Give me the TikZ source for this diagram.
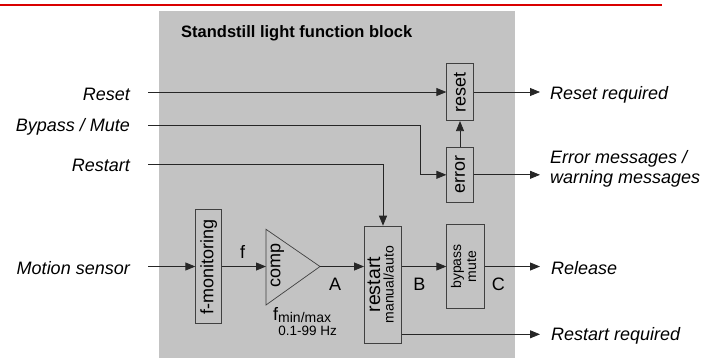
\documentclass[tikz,border=0pt]{standalone}
\usepackage{fontspec}
\setmainfont{Liberation Sans}
\usepackage{tikz}
\usetikzlibrary{arrows.meta}
\definecolor{panelgray}{RGB}{195,195,195}

\begin{document}
\begin{tikzpicture}[x=1pt,y=-1pt,
  every node/.style={font=\fontsize{18}{19.5}\selectfont,inner sep=0pt},
  blockbox/.style={draw=black!75,fill=panelgray,line width=0.7pt},
  sig/.style={draw=black!85,line width=0.8pt},
  sigarrow/.style={sig,-{Triangle[length=10pt,width=8pt]}},
  inlabel/.style={anchor=base east,font=\fontsize{18}{19.5}\selectfont\itshape},
  outlabel/.style={anchor=base west,font=\fontsize{18}{19.5}\selectfont\itshape},
  smalltext/.style={font=\fontsize{14}{15}\selectfont}]
\useasboundingbox (0,0) rectangle (709,360);
\fill[panelgray] (159,11) rectangle (515,358);
\draw[draw=red!85!black,line width=1.8pt] (0,5.3) -- (662,5.3);
\node[anchor=base west,font=\fontsize{16.5}{18}\selectfont\bfseries] (title) at (181,37.7) {Standstill light function block};
\node[blockbox,minimum width=26.6,minimum height=57.4] (reset) at (460,92) {\rotatebox{90}{reset}};
\node[blockbox,minimum width=26.6,minimum height=55] (error) at (460,174.8) {\rotatebox{90}{error}};
\node[blockbox,minimum width=26,minimum height=114] (fmon) at (208.7,266.5) {\rotatebox{90}{f-monitoring}};
\node[blockbox,minimum width=37.2,minimum height=117.3] (restart) at (383,284.7) {\rotatebox{90}{\begin{tabular}{@{}c@{}}\fontsize{19.5}{19.5}\selectfont restart\\[-6pt]\fontsize{14}{14}\selectfont manual/auto\end{tabular}}};
\node[blockbox,smalltext,minimum width=37.6,minimum height=84] (bypass) at (465.5,266.5) {\rotatebox{90}{\begin{tabular}{@{}c@{}}bypass\\mute\end{tabular}}};
\draw[black!75,line width=0.7pt] (266,229.3) -- (320,266.5) -- (266,305) -- cycle;
\coordinate (compin) at (266,266.5);
\coordinate (compout) at (320,266.5);
\node (comp) at (277.5,265.5) {\rotatebox{90}{comp}};
\node[inlabel] (inreset) at (130,100) {Reset};
\node[inlabel] (inbypass) at (130,131.5) {Bypass / Mute};
\node[inlabel] (inrestart) at (130,171.5) {Restart};
\node[inlabel] (inmotion) at (130,274.3) {Motion sensor};
\coordinate (srcreset) at (148,92);
\coordinate (srcbypass) at (148,125);
\coordinate (bypassbend) at (420,125);
\coordinate (srcrestart) at (148,164.3);
\coordinate (srcmotion) at (148,266.5);
\coordinate (dstreset) at (540,92);
\coordinate (dsterror) at (540,174.8);
\coordinate (dstrelease) at (540,266.5);
\coordinate (dstrestart) at (540,334.3);
\draw[sigarrow] (srcreset) -- (reset.west);
\draw[sigarrow] (srcbypass) -- (bypassbend) |- (error.west);
\draw[sigarrow] (srcrestart) -| (restart.north);
\draw[sigarrow] (srcmotion) -- (fmon.west);
\draw[sigarrow] (fmon.east) -- (compin);
\draw[sigarrow] (compout) -- (compout -| restart.west);
\draw[sigarrow] (compout -| restart.east) -- (bypass.west);
\draw[sigarrow] (bypass.east) -- (dstrelease);
\draw[sigarrow] (restart.east |- dstrestart) -- (dstrestart);
\draw[sigarrow] (error.north) -- (reset.south);
\draw[sigarrow] (reset.east) -- (dstreset);
\draw[sigarrow] (error.east) -- (dsterror);
\node[anchor=base] (flabel) at (242.5,258.5) {f};
\node[anchor=base] (alabel) at (335,290) {A};
\node[anchor=base] (blabel) at (419.3,290) {B};
\node[anchor=base] (clabel) at (498.3,290) {C};
\node[anchor=base west] (frange) at (273,320) {f\raisebox{-2.5pt}{\fontsize{14}{14}\selectfont min/max}};
\node[anchor=base,font=\fontsize{13.5}{14}\selectfont] (hzrange) at (307.7,335.7) {0.1-99 Hz};
\node[outlabel] (outreset) at (550,99.5) {Reset required};
\node[anchor=west,align=left,font=\fontsize{18}{19.5}\selectfont\itshape] (outerror) at (550,169) {Error messages /\\warning messages};
\node[outlabel] (outrelease) at (551,274) {Release};
\node[outlabel] (outrestart) at (551,340.7) {Restart required};
\end{tikzpicture}
\end{document}
